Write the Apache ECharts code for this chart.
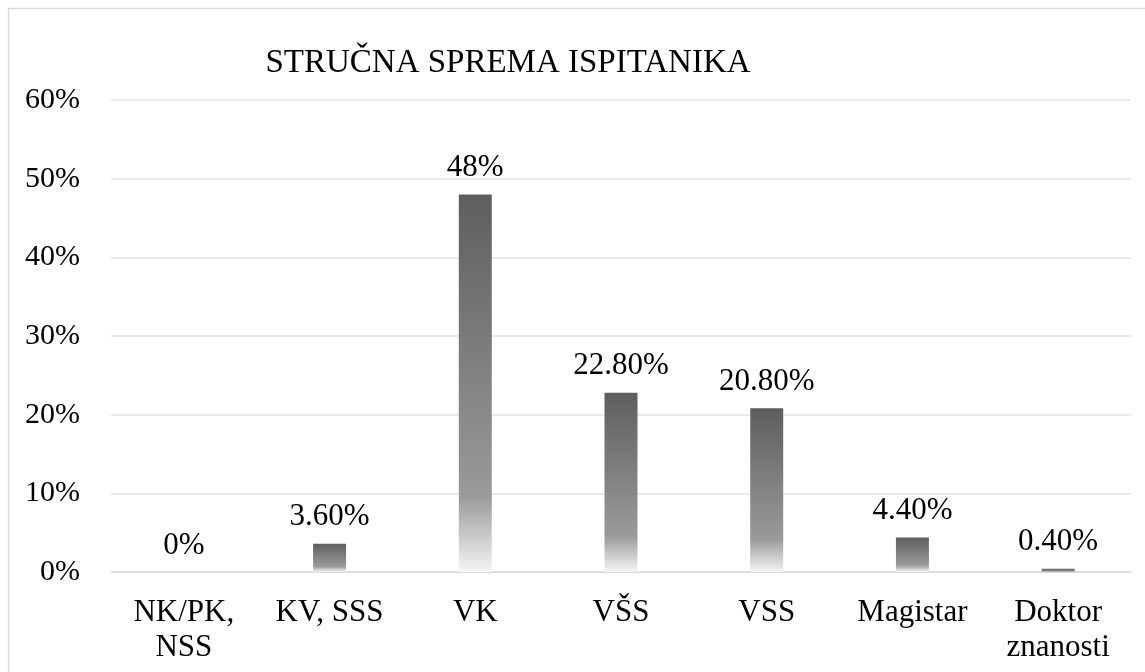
<!DOCTYPE html>
<html lang="hr">
<head>
    <meta charset="UTF-8">
    <title>Stručna sprema ispitanika</title>
    <script src="https://cdn.jsdelivr.net/npm/echarts@6/dist/echarts.min.js"></script>
    <style>
        html, body { margin: 0; padding: 0; background: #fff; }
        #chart { width: 1145px; height: 672px; }
    </style>
</head>
<body>
<div id="chart"></div>
<script type="text/javascript">
    // podaci
    var categories = ['NK/PK,\nNSS', 'KV, SSS', 'VK', 'VŠS', 'VSS', 'Magistar', 'Doktor\nznanosti'];
    var values = [0, 3.6, 48, 22.8, 20.8, 4.4, 0.4];
    var valueLabels = ['0%', '3.60%', '48%', '22.80%', '20.80%', '4.40%', '0.40%'];

    var serif = '"Liberation Serif", "DejaVu Serif", serif';

    var chart = echarts.init(document.getElementById('chart'));
    var option = {
        animation: false,
        backgroundColor: '#fff',
        graphic: [{
            type: 'rect',
            shape: { x: 8.5, y: 8.5, width: 1160, height: 700 },
            style: { fill: 'none', stroke: '#d9d9d9', lineWidth: 1.5 },
            silent: true
        }],
        title: {
            text: 'STRUČNA SPREMA ISPITANIKA',
            left: 503,
            top: 42,
            textAlign: 'center',
            textStyle: {
                fontFamily: serif,
                fontSize: 33,
                fontWeight: 'normal',
                color: '#000'
            }
        },
        grid: {
            left: 111,
            right: 14,
            top: 100,
            bottom: 100
        },
        xAxis: {
            type: 'category',
            data: categories,
            axisTick: { show: false },
            axisLine: { lineStyle: { color: '#d9d9d9', width: 1.5 } },
            axisLabel: {
                interval: 0,
                margin: 23,
                fontFamily: serif,
                fontSize: 31,
                lineHeight: 35,
                color: '#000'
            }
        },
        yAxis: {
            type: 'value',
            min: 0,
            max: 60,
            interval: 10,
            axisLine: { show: false },
            axisTick: { show: false },
            splitLine: { lineStyle: { color: '#e3e3e3', width: 1.5 } },
            axisLabel: {
                margin: 31,
                fontFamily: serif,
                fontSize: 30,
                color: '#000',
                formatter: '{value}%'
            }
        },
        series: [{
            type: 'bar',
            data: values,
            barWidth: 33,
            itemStyle: {
                color: new echarts.graphic.LinearGradient(0, 0, 0, 1, [
                    { offset: 0, color: '#5e5e5e' },
                    { offset: 0.8, color: '#9a9a9a' },
                    { offset: 1, color: '#f5f5f5' }
                ])
            },
            label: {
                show: true,
                position: 'top',
                distance: 11,
                fontFamily: serif,
                fontSize: 31,
                color: '#000',
                formatter: function (p) {
                    return valueLabels[p.dataIndex];
                }
            }
        }]
    };
    chart.setOption(option);
</script>
</body>
</html>
